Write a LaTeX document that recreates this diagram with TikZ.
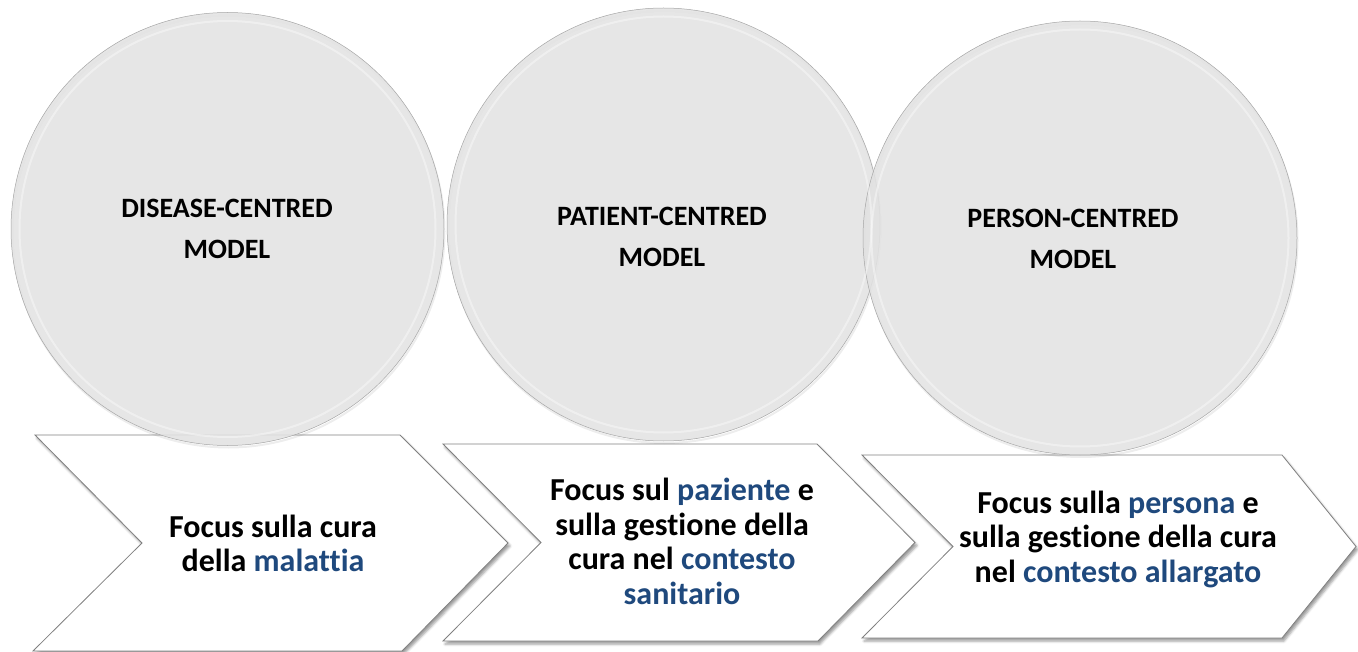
\documentclass[tikz,border=0pt]{standalone}
\usepackage{fontspec}
\setmainfont{Carlito}[Ligatures=NoCommon]
\usetikzlibrary{shadows.blur}

\definecolor{accent}{RGB}{31,73,125}
\definecolor{discfill}{RGB}{226,226,226}
\definecolor{edge}{RGB}{128,128,128}

\begin{document}
\begin{tikzpicture}[x=1pt,y=-1pt,
  chevron/.style={draw=edge, line width=0.8pt, fill=white, line join=miter,
    blur shadow={shadow xshift=2pt, shadow yshift=-3pt,
      shadow blur radius=2.5pt, shadow opacity=40}},
  disc/.style={circle, inner sep=0pt, minimum size=#1, draw=gray!70,
    line width=0.5pt, fill=discfill, fill opacity=0.88},
  discshade/.style={draw=black, opacity=0.07, line width=2pt},
  discrim/.style={draw=white, opacity=0.4, line width=2pt},
  modeltext/.style={font=\bfseries\fontsize{28}{41}\selectfont, align=center,
    inner sep=0pt, text=black},
  focustext/.style={font=\bfseries\fontsize{32}{34.5}\selectfont, align=center,
    inner sep=0pt, text=black}
]
\useasboundingbox (0,0) rectangle (1358,652);

% step arrows along the bottom
\draw[chevron] (35,435) -- (400,435) -- (508,543) -- (402,651) -- (33,651)
  -- (142,543) -- cycle;
\draw[chevron] (443,444) -- (817,444) -- (915,542.5) -- (818,641) -- (443,641)
  -- (541,542.5) -- cycle;
\draw[chevron] (862,455) -- (1282,455) -- (1356,546.5) -- (1282,638) -- (862,638)
  -- (953,546.5) -- cycle;

% soft rings giving the discs a raised look
\draw[discshade] (228.5,231.5) circle[radius=216];
\draw[discshade] (664.5,227) circle[radius=216];
\draw[discshade] (1081,240.5) circle[radius=216.5];

% the three model discs
\node[disc=433pt] (c1) at (227.5,229) {};
\node[disc=433pt] (c2) at (663.5,224.5) {};
\node[disc=434pt] (c3) at (1080,238) {};

\draw[discrim] (c1.center) circle[radius=208];
\draw[discrim] (c2.center) circle[radius=208];
\draw[discrim] (c3.center) circle[radius=208.5];

% disc labels
\node[modeltext] (t1) at (227,228.5) {DISEASE-CENTRED\\MODEL};
\node[modeltext] (t2) at (662,237) {PATIENT-CENTRED\\MODEL};
\node[modeltext] (t3) at (1073,238.5) {PERSON-CENTRED\\MODEL};

% arrow labels
\node[focustext] (f1) at (273,543.5)
  {Focus sulla cura\\della \textcolor{accent}{malattia}};
\node[focustext] (f2) at (682,541.5)
  {Focus sul \textcolor{accent}{paziente} e\\sulla gestione della\\cura nel \textcolor{accent}{contesto}\\\textcolor{accent}{sanitario}};
\node[focustext] (f3) at (1118,539)
  {Focus sulla \textcolor{accent}{persona} e\\sulla gestione della cura\\nel \textcolor{accent}{contesto allargato}};
\end{tikzpicture}
\end{document}
